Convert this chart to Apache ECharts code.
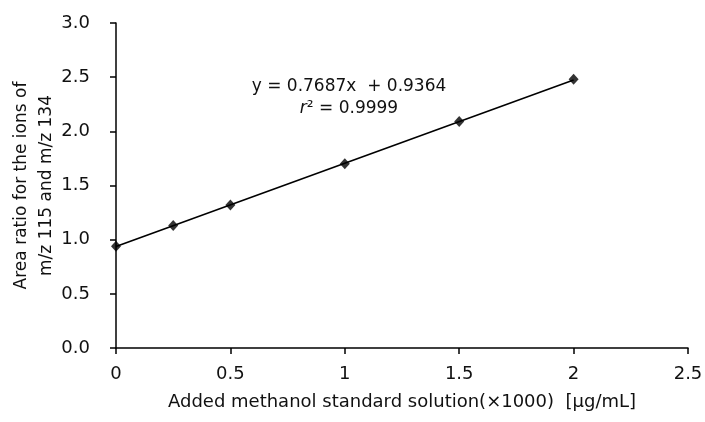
<!DOCTYPE html>
<html>
<head>
<meta charset="utf-8">
<script src="https://cdn.jsdelivr.net/npm/echarts@6/dist/echarts.min.js"></script>
<style>
  html, body { margin: 0; padding: 0; background: #fff; }
  #chart { width: 705px; height: 422px; }
</style>
</head>
<body>
<div id="chart"></div>
<script>
// ========== data ==========
const xValues = [0, 0.25, 0.5, 1, 1.5, 2];
const yValues = [0.94, 1.13, 1.32, 1.70, 2.09, 2.48];
// trendline end points
const trendX = [0, 2];
const trendY = [0.9364, 2.4738];
const equationText = 'y = 0.7687x  + 0.9364';
const r2Value = '0.9999';

const xAxisName = 'Added methanol standard solution(×1000)  [μg/mL]';
const yAxisName = 'Area ratio for the ions of\nm/z 115 and m/z 134';

const FONT = 'DejaVu Sans, Arial, sans-serif';
const INK = '#111';

const chart = echarts.init(document.getElementById('chart'));

chart.setOption({
  backgroundColor: '#fff',
  animation: false,
  textStyle: { fontFamily: FONT, color: INK },
  grid: { left: 116, right: 17, top: 23, bottom: 74, containLabel: false, outerBoundsMode: 'none' },
  xAxis: {
    type: 'value',
    min: 0,
    max: 2.5,
    interval: 0.5,
    name: xAxisName,
    nameLocation: 'middle',
    nameGap: 45,
    nameMoveOverlap: false,
    nameTextStyle: { fontSize: 18, color: INK, fontFamily: FONT },
    axisLine: { show: true, onZero: false, lineStyle: { color: '#000', width: 1.5 } },
    axisTick: { show: true, length: 6, inside: false, lineStyle: { color: '#000', width: 1.5 } },
    axisLabel: { fontSize: 18, color: INK, margin: 17, fontFamily: FONT },
    splitLine: { show: false }
  },
  yAxis: {
    type: 'value',
    min: 0,
    max: 3,
    interval: 0.5,
    name: yAxisName,
    nameLocation: 'middle',
    nameRotate: 90,
    nameGap: 57,
    nameMoveOverlap: false,
    nameTextStyle: { fontSize: 17, color: INK, lineHeight: 25, align: 'center', fontFamily: FONT },
    axisLine: { show: true, onZero: false, lineStyle: { color: '#000', width: 1.5 } },
    axisTick: { show: true, length: 6, inside: false, lineStyle: { color: '#000', width: 1.5 } },
    axisLabel: {
      fontSize: 18,
      color: INK,
      margin: 26,
      fontFamily: FONT,
      formatter: v => v.toFixed(1)
    },
    splitLine: { show: false }
  },
  series: [
    {
      name: 'trend',
      type: 'line',
      data: trendX.map((x, i) => [x, trendY[i]]),
      showSymbol: false,
      symbol: 'none',
      lineStyle: { color: '#000', width: 1.6 },
      z: 2
    },
    {
      name: 'points',
      type: 'scatter',
      data: xValues.map((x, i) => [x, yValues[i]]),
      symbol: 'diamond',
      symbolSize: [10, 11],
      itemStyle: { color: '#000' },
      z: 3
    }
  ],
  graphic: [
    {
      type: 'text',
      x: 349,
      y: 78,
      style: { text: equationText, font: '17px ' + FONT, fill: INK, align: 'center' }
    },
    {
      type: 'text',
      x: 349,
      y: 100,
      style: {
        text: '{i|r}{n|² = ' + r2Value + '}',
        align: 'center',
        rich: {
          i: { font: 'italic 17px ' + FONT, fill: INK },
          n: { font: '17px ' + FONT, fill: INK }
        }
      }
    }
  ]
});
</script>
</body>
</html>
